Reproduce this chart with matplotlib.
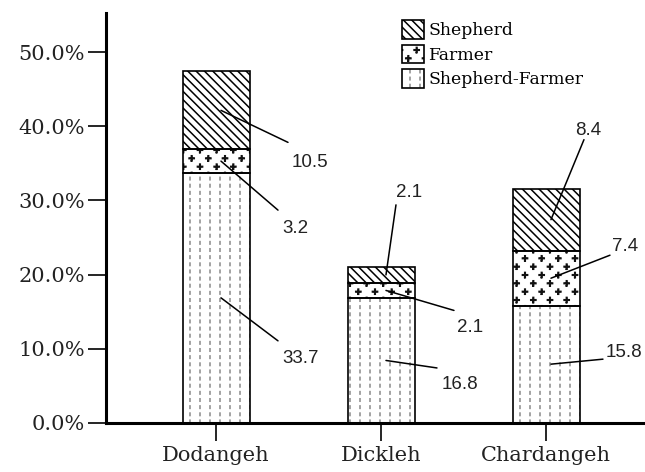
import numpy as np
import matplotlib
matplotlib.use('Agg')
import matplotlib.pyplot as plt
import matplotlib.hatch as mhatch
from matplotlib.path import Path
from matplotlib.patches import Patch
from matplotlib.ticker import FuncFormatter

villages = ['Dodangeh', 'Dickleh', 'Chardangeh']
groups = ['Shepherd-Farmer', 'Farmer', 'Shepherd']   # stacked bottom to top
shepherd_farmer = [33.7, 16.8, 15.8]
farmer = [3.2, 2.1, 7.4]
shepherd = [10.5, 2.1, 8.4]
yticks = [0, 10, 20, 30, 40, 50]

# leader line ends / label baselines, pixel offsets from the segment middle
line_ends = [[(57, -43), (57, -49), (67, -32)],
             [(51, -7.5), (68, -20), (10, 70)],
             [(52, 5), (59, 23), (33, 80)]]
text_pos = [[(61, -65), (61, -72), (71, -56.6)],
            [(56, -28.5), (71, -41.6), (10, 78)],
            [(55, 7), (61, 27), (24, 85)]]


# small tiled shapes as hatch textures (plus signs, dotted columns)
class TileHatch(mhatch.HatchPatternBase):
    char = None
    ncols, nrows, stagger = 6, 12, True
    shape = np.zeros((1, 2))
    codes = np.array([Path.MOVETO])

    def __init__(self, hatch, density):
        self.centers = []
        if self.char in hatch:
            for i in range(self.nrows + 1):
                if self.stagger and i % 2:
                    xs = (np.arange(self.ncols) + 0.5) / self.ncols
                else:
                    xs = np.arange(self.ncols + 1) / self.ncols
                self.centers += [(xx, i / self.nrows) for xx in xs]
        self.num_vertices = len(self.centers) * len(self.shape)

    def set_vertices_and_codes(self, vertices, codes):
        n = len(self.shape)
        for k, c in enumerate(self.centers):
            vertices[k*n:(k+1)*n] = self.shape + np.array(c)
            codes[k*n:(k+1)*n] = self.codes


a, t = 0.026, 0.003
class PlusHatch(TileHatch):
    char = '*'
    shape = np.array([(-t, -a), (t, -a), (t, -t), (a, -t), (a, t), (t, t), (t, a),
                      (-t, a), (-t, t), (-a, t), (-a, -t), (-t, -t), (-t, -a)])
    codes = np.array([Path.MOVETO] + [Path.LINETO] * 12, dtype=Path.code_type)


class DashHatch(TileHatch):
    char = 'o'
    ncols, nrows, stagger = 10, 14, False
    shape = np.array([(0, -0.0125), (0, 0.0125)])
    codes = np.array([Path.MOVETO, Path.LINETO], dtype=Path.code_type)


mhatch._hatch_types = [h for h in mhatch._hatch_types
                       if h not in (mhatch.Stars, mhatch.SmallCircles)] + [PlusHatch, DashHatch]

plt.rcParams['hatch.linewidth'] = 1.1
serif = 'DejaVu Serif'

fig = plt.figure(figsize=(6.45, 4.72), dpi=100)
ax = fig.add_axes([106/645, 1 - 422.7/472, 1 - 106/645, (422.7 - 13.3)/472])

x = np.arange(len(villages))
width = 0.406
stack = [shepherd_farmer, farmer, shepherd]
hatches = ['o', '*', chr(92) * 4]
hcolors = ['#8a8a8a', '#111111', 'black']

bottom = np.zeros(len(villages))
for j, (vals, h, hc) in enumerate(zip(stack, hatches, hcolors)):
    vals = np.array(vals)
    bars = ax.bar(x, vals, width, bottom=bottom, color='white', edgecolor=hc,
                  linewidth=0, zorder=2)
    for p in bars:
        p.set_hatch(h)
    ax.bar(x, vals, width, bottom=bottom, fill=False, edgecolor='black',
           linewidth=1.2, zorder=3)
    for i in range(len(villages)):
        anchor = (x[i] + 0.03, bottom[i] + vals[i] / 2)
        ax.annotate('', xy=anchor, xytext=line_ends[i][j], textcoords='offset pixels',
                    arrowprops=dict(arrowstyle='-', color='black', lw=1.1,
                                    shrinkA=0, shrinkB=0), zorder=4)
        ax.annotate(f'{vals[i]:.1f}', xy=anchor, xytext=text_pos[i][j],
                    textcoords='offset pixels', ha='left', va='baseline',
                    fontsize=13.5, family='Liberation Sans', color='#222222')
    bottom += vals

ax.set_xlim(-0.667, 2.6)
ax.set_ylim(0, 55.25)
ax.set_yticks(yticks)
ax.yaxis.set_major_formatter(FuncFormatter(lambda v, p: f'{v:.1f}%'))
ax.set_xticks(x)
ax.set_xticklabels(villages)
for lab in ax.get_xticklabels() + ax.get_yticklabels():
    lab.set_family(serif)
ax.tick_params(length=13, width=1.2, pad=2, labelsize=15, labelcolor='#222222')
ax.tick_params(axis='x', pad=4)
ax.spines[['top', 'right']].set_visible(False)
ax.spines[['left', 'bottom']].set_linewidth(2.2)

handles = [(Patch(facecolor='white', edgecolor=hc, linewidth=0, hatch=h),
            Patch(fill=False, edgecolor='black', linewidth=1.2))
           for h, hc in zip(hatches, hcolors)][::-1]
fig.legend(handles, groups[::-1], loc='upper left', bbox_to_anchor=(402/645, 1 - 20/472),
           frameon=False, borderpad=0, borderaxespad=0, handlelength=1.28,
           handleheight=1.28, labelspacing=0.32, handletextpad=0.23,
           prop={'family': serif, 'size': 12.4})

fig.savefig('out.png', dpi=100)
